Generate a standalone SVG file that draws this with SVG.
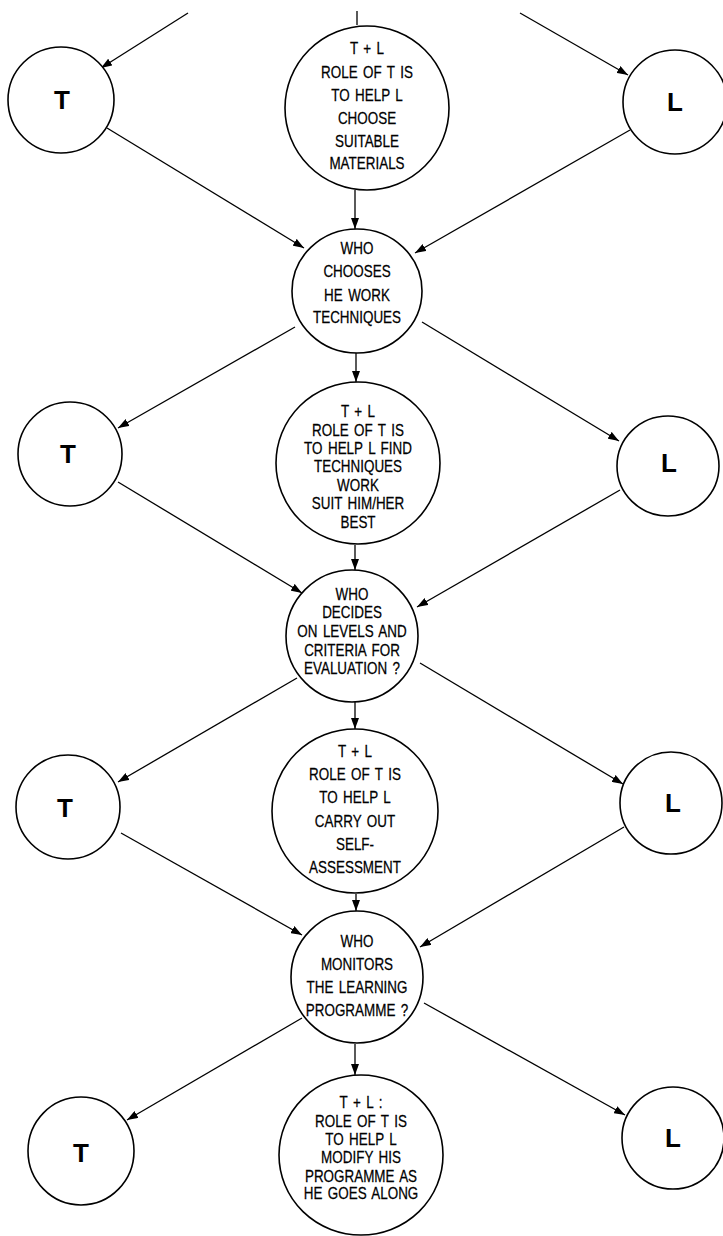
<svg xmlns="http://www.w3.org/2000/svg" width="723" height="1236" viewBox="0 0 723 1236">
<style>
.n{fill:#fff;stroke:#000;stroke-width:1.6}
.t{font-family:"Liberation Sans",Arial,sans-serif;font-size:16px;fill:#000;stroke:#000;stroke-width:0.25;text-anchor:middle;word-spacing:2px}
.b{font-family:"Liberation Sans",Arial,sans-serif;font-size:26px;font-weight:bold;fill:#000;text-anchor:middle}
.c line{stroke:#000;stroke-width:1.3;fill:none}
.c line.a{marker-end:url(#ah)}
</style>
<defs>
<marker id="ah" markerUnits="userSpaceOnUse" markerWidth="11" markerHeight="8" refX="11" refY="4" orient="auto">
<path d="M0,0 L11,4 L0,8 z" fill="#000"/>
</marker>
</defs>
<rect width="723" height="1236" fill="#fff"/>
<g id="connectors" class="c">
<line class="a" x1="188" y1="13" x2="101" y2="68"/>
<line class="a" x1="520" y1="13" x2="628" y2="75"/>
<line x1="357" y1="11" x2="357" y2="25"/>
<line class="a" x1="107" y1="128" x2="304" y2="248"/>
<line class="a" x1="630" y1="130" x2="415" y2="253"/>
<line class="a" x1="355" y1="190" x2="355" y2="229"/>
<line class="a" x1="295" y1="327" x2="118" y2="428"/>
<line class="a" x1="422" y1="322" x2="619" y2="441"/>
<line class="a" x1="356" y1="353" x2="356" y2="382"/>
<line class="a" x1="118" y1="482" x2="302" y2="593"/>
<line class="a" x1="620" y1="490" x2="417" y2="607"/>
<line class="a" x1="355" y1="545" x2="355" y2="570"/>
<line class="a" x1="297" y1="678" x2="118" y2="782"/>
<line class="a" x1="420" y1="663" x2="623" y2="784"/>
<line class="a" x1="355" y1="702" x2="355" y2="729"/>
<line class="a" x1="121" y1="833" x2="302" y2="935"/>
<line class="a" x1="624" y1="827" x2="420" y2="947"/>
<line class="a" x1="356" y1="894" x2="356" y2="911"/>
<line class="a" x1="302" y1="1018" x2="127" y2="1120"/>
<line class="a" x1="424" y1="1003" x2="625" y2="1115"/>
<line class="a" x1="355" y1="1044" x2="355" y2="1075"/>
</g>
<g id="T1"><ellipse class="n" cx="61" cy="100" rx="53" ry="53"/><text class="b" x="62" y="109">T</text></g>
<g id="L1"><ellipse class="n" cx="675" cy="102" rx="52" ry="52"/><text class="b" x="675" y="111">L</text></g>
<g id="C1"><ellipse class="n" cx="367" cy="108" rx="82" ry="82"/>
<g transform="translate(367 0) scale(0.84 1)">
<text class="t" x="0" y="54">T + L</text>
<text class="t" x="0" y="78">ROLE OF T IS</text>
<text class="t" x="0" y="101">TO HELP L</text>
<text class="t" x="0" y="124">CHOOSE</text>
<text class="t" x="0" y="147">SUITABLE</text>
<text class="t" x="0" y="169">MATERIALS</text>
</g></g>
<g id="W1"><ellipse class="n" cx="357" cy="291" rx="65" ry="62"/>
<g transform="translate(357 0) scale(0.84 1)">
<text class="t" x="0" y="254">WHO</text>
<text class="t" x="0" y="277">CHOOSES</text>
<text class="t" x="0" y="301">HE WORK</text>
<text class="t" x="0" y="323">TECHNIQUES</text>
</g></g>
<g id="T2"><ellipse class="n" cx="70" cy="454" rx="52" ry="52"/><text class="b" x="68" y="463">T</text></g>
<g id="L2"><ellipse class="n" cx="668" cy="466" rx="51" ry="50"/><text class="b" x="669" y="472">L</text></g>
<g id="C2"><ellipse class="n" cx="358" cy="463" rx="82" ry="81"/>
<g transform="translate(358 0) scale(0.84 1)">
<text class="t" x="0" y="417">T + L</text>
<text class="t" x="0" y="436">ROLE OF T IS</text>
<text class="t" x="0" y="454">TO HELP L FIND</text>
<text class="t" x="0" y="472">TECHNIQUES</text>
<text class="t" x="0" y="491">WORK</text>
<text class="t" x="0" y="509">SUIT HIM/HER</text>
<text class="t" x="0" y="528">BEST</text>
</g></g>
<g id="W2"><ellipse class="n" cx="352" cy="636" rx="66" ry="66"/>
<g transform="translate(352 0) scale(0.84 1)">
<text class="t" x="0" y="600">WHO</text>
<text class="t" x="0" y="618">DECIDES</text>
<text class="t" x="0" y="637">ON LEVELS AND</text>
<text class="t" x="0" y="656">CRITERIA FOR</text>
<text class="t" x="0" y="674">EVALUATION ?</text>
</g></g>
<g id="T3"><ellipse class="n" cx="68" cy="807" rx="52" ry="52"/><text class="b" x="65" y="817">T</text></g>
<g id="L3"><ellipse class="n" cx="671" cy="803" rx="51" ry="51"/><text class="b" x="673" y="812">L</text></g>
<g id="C3"><ellipse class="n" cx="355" cy="811" rx="83" ry="82"/>
<g transform="translate(355 0) scale(0.84 1)">
<text class="t" x="0" y="757">T + L</text>
<text class="t" x="0" y="780">ROLE OF T IS</text>
<text class="t" x="0" y="803">TO HELP L</text>
<text class="t" x="0" y="827">CARRY OUT</text>
<text class="t" x="0" y="850">SELF-</text>
<text class="t" x="0" y="873">ASSESSMENT</text>
</g></g>
<g id="W3"><ellipse class="n" cx="357" cy="977" rx="66" ry="66"/>
<g transform="translate(357 0) scale(0.84 1)">
<text class="t" x="0" y="947">WHO</text>
<text class="t" x="0" y="970">MONITORS</text>
<text class="t" x="0" y="993">THE LEARNING</text>
<text class="t" x="0" y="1016">PROGRAMME ?</text>
</g></g>
<g id="T4"><ellipse class="n" cx="81" cy="1151" rx="53" ry="54"/><text class="b" x="81" y="1162">T</text></g>
<g id="L4"><ellipse class="n" cx="673" cy="1138" rx="51" ry="51"/><text class="b" x="673" y="1147">L</text></g>
<g id="C4"><ellipse class="n" cx="361" cy="1155" rx="82" ry="80"/>
<g transform="translate(361 0) scale(0.84 1)">
<text class="t" x="0" y="1108">T + L :</text>
<text class="t" x="0" y="1127">ROLE OF T IS</text>
<text class="t" x="0" y="1145">TO HELP L</text>
<text class="t" x="0" y="1163">MODIFY HIS</text>
<text class="t" x="0" y="1182">PROGRAMME AS</text>
<text class="t" x="0" y="1199">HE GOES ALONG</text>
</g></g>
</svg>
